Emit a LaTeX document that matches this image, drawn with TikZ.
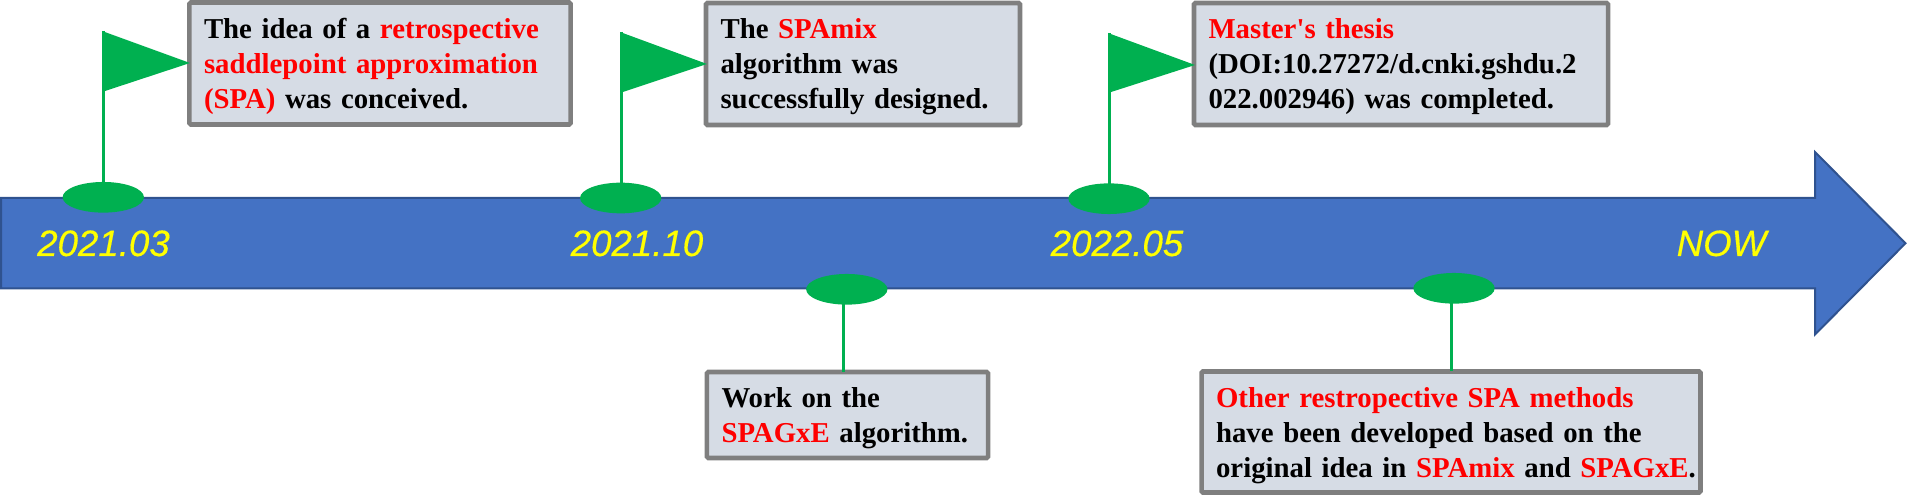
\documentclass[tikz,border=0pt]{standalone}
\usepackage{fontspec}
\setmainfont{Liberation Serif}
\newfontfamily\datefont{Liberation Sans}[ItalicFeatures={FakeBold=0.4}]
\usetikzlibrary{shapes.geometric}
\definecolor{barfill}{HTML}{4472C4}
\definecolor{barline}{HTML}{2F528F}
\definecolor{flaggreen}{HTML}{00B050}
\definecolor{boxfill}{HTML}{D6DCE5}
\definecolor{boxline}{HTML}{7F7F7F}
\definecolor{spared}{HTML}{FF0000}
\definecolor{dateyellow}{HTML}{FFFF00}
\newcommand{\hilite}[1]{\textcolor{spared}{#1}}
\protected\def\tightwords{\spaceskip=4.3pt\relax}
\begin{document}
\begin{tikzpicture}[
  x=0.75pt, y=-0.75pt,
  bar/.style={fill=barfill, draw=barline, line width=1.5pt, line join=miter},
  dot/.style={ellipse, fill=flaggreen, minimum width=61pt, minimum height=23pt, inner sep=0pt},
  pole/.style={draw=flaggreen, line width=2.25pt},
  flag/.style={fill=flaggreen},
  datelbl/.style={anchor=base, text=dateyellow, font=\fontsize{27.5}{27.5}\selectfont\datefont\itshape},
  tbox/.style={rectangle, rounded corners=1pt, fill=boxfill, draw=boxline, line width=3.4pt,
               align=left, inner xsep=10.9pt, inner ysep=0pt, outer sep=0pt, text height=16pt,
               font=\fontsize{21.6}{26.25}\selectfont\bfseries\tightwords}
]
\useasboundingbox (0,0) rectangle (1907,502);
% timeline arrow
\draw[bar] (1,198) -- (1815,198) -- (1815,152) -- (1905.5,243.25) -- (1815,334.5) -- (1815,288.5) -- (1,288.5) -- cycle;
% boxes above the bar
\node[tbox, text width=264pt, text depth=53.6pt, minimum height=91.5pt] (ideabox) at (380,63.5)
  {The idea of a \hilite{retrospective}\\\hilite{saddlepoint approximation}\\\hilite{(SPA)} was conceived.};
\node[tbox, text width=213.7pt, text depth=53.6pt, minimum height=91.5pt] (mixbox) at (863,64)
  {The \hilite{SPAmix}\\algorithm was\\successfully designed.};
\node[tbox, text width=288.7pt, text depth=53.6pt, minimum height=91.5pt] (thesisbox) at (1401,64)
  {\hilite{Master\textquotesingle s thesis}\\(DOI:10.27272/d.cnki.gshdu.2\\022.002946) was completed.};
% boxes below the bar
\node[tbox, text width=189pt, text depth=27.4pt, minimum height=64.5pt] (gxebox) at (847.5,415)
  {Work on the\\\hilite{SPAGxE} algorithm.};
\node[tbox, text width=352.4pt, text depth=53pt, minimum height=90.75pt] (otherbox) at (1451,432)
  {\hilite{Other restropective SPA methods}\\have been developed based on the\\\mbox{original idea in \hilite{SPAmix} and \hilite{SPAGxE}.}};
% dots on the bar
\node[dot] (dotA) at (103.3,197.3) {};
\node[dot] (dotB) at (620.7,198) {};
\node[dot] (dotC) at (1109,198.7) {};
\node[dot] (dotD) at (846.8,289.3) {};
\node[dot] (dotE) at (1454,288.3) {};
% flags
\coordinate (flagA) at (103.3,31);
\coordinate (flagB) at (621.5,32);
\coordinate (flagC) at (1109.6,33);
\coordinate (stemD) at (843.4,305);
\coordinate (stemE) at (1451,304);
\draw[pole] (flagA) -- (flagA |- dotA);
\draw[pole] (flagB) -- (flagB |- dotB);
\draw[pole] (flagC) -- (flagC |- dotC);
\draw[pole] (stemD |- dotD) -- (stemD |- gxebox.north);
\draw[pole] (stemE |- dotE) -- (stemE |- otherbox.north);
\fill[flag] (102,31) -- (190,63) -- (102,92) -- cycle;
\fill[flag] (620,32) -- (707,64) -- (620,93) -- cycle;
\fill[flag] (1108,33) -- (1195,65) -- (1108,93) -- cycle;
% dates
\node[datelbl] (dateA) at (103.5,256) {2021.03};
\node[datelbl] (dateB) at (637,256) {2021.10};
\node[datelbl] (dateC) at (1117,256) {2022.05};
\node[datelbl] (dateD) at (1721.5,256) {NOW};
\end{tikzpicture}
\end{document}
